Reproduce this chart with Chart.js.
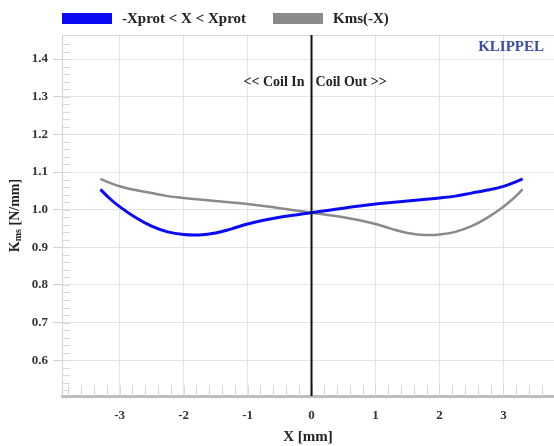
<!DOCTYPE html>
<html>
<head>
<meta charset="utf-8">
<title>Kms vs X</title>
<script src="https://cdn.jsdelivr.net/npm/chart.js@4.4.1/dist/chart.umd.min.js"></script>
<style>
  html, body { margin: 0; padding: 0; background: #fff; }
  #wrap { width: 554px; height: 446px; }
</style>
</head>
<body>
<div id="wrap"><canvas id="chartKms" width="554" height="446"></canvas></div>
<script>
// Stiffness over excursion
const xPos = [-3.3, -3.15, -3.0, -2.75, -2.5, -2.25, -2.0, -1.75, -1.5, -1.25, -1.0, -0.75, -0.5, -0.25,
              0, 0.25, 0.5, 0.75, 1.0, 1.25, 1.5, 1.75, 2.0, 2.25, 2.5, 2.75, 3.0, 3.15, 3.3];
const kmsX = [1.054, 1.029, 1.008, 0.979, 0.956, 0.941, 0.934, 0.933, 0.938, 0.949, 0.962, 0.972, 0.980, 0.986,
              0.992, 0.998, 1.004, 1.010, 1.015, 1.019, 1.023, 1.027, 1.031, 1.036, 1.044, 1.052, 1.062, 1.071, 1.082];
const kmsMinusX = [1.082, 1.071, 1.062, 1.052, 1.044, 1.036, 1.031, 1.027, 1.023, 1.019, 1.015, 1.010, 1.004, 0.998,
                   0.992, 0.986, 0.980, 0.972, 0.962, 0.949, 0.938, 0.933, 0.934, 0.941, 0.956, 0.979, 1.008, 1.029, 1.054];
const serieNames = ['-Xprot < X < Xprot', 'Kms(-X)'];
const serieColors = ['#0a0af5', '#8a8a8a'];

const SERIF = '"Liberation Serif", "DejaVu Serif", serif';

function puntos(ys) {
    return xPos.map((x, i) => ({ x: x, y: ys[i] }));
}

// Leyenda, textos, linea cero y ticks menores
const extras = {
    id: 'extras',
    beforeDatasetsDraw(chart) {
        const ctx = chart.ctx;
        const a = chart.chartArea;
        const sx = chart.scales.x, sy = chart.scales.y;
        ctx.save();
        ctx.strokeStyle = '#d8d8d8';
        ctx.lineWidth = 1;
        // borde superior
        ctx.beginPath();
        ctx.moveTo(a.left, a.top + 0.5);
        ctx.lineTo(a.right, a.top + 0.5);
        ctx.stroke();
        // ticks menores eje x (cada 0.2)
        ctx.beginPath();
        for (let v = -3.8; v <= 3.8; v += 0.2) {
            const px = Math.round(sx.getPixelForValue(v)) + 0.5;
            if (px < a.left + 2 || px > a.right) continue;
            ctx.moveTo(px, a.bottom);
            ctx.lineTo(px, a.bottom - 11);
        }
        // ticks menores eje y (cada 0.02)
        for (let v = 0.52; v <= 1.46; v += 0.02) {
            const py = Math.round(sy.getPixelForValue(v)) + 0.5;
            if (py < a.top || py > a.bottom - 2) continue;
            ctx.moveTo(a.left, py);
            ctx.lineTo(a.left + 8, py);
        }
        ctx.stroke();
        ctx.restore();
    },
    afterDatasetsDraw(chart) {
        const ctx = chart.ctx;
        const a = chart.chartArea;
        const sx = chart.scales.x;
        ctx.save();
        // linea en X = 0
        const x0 = sx.getPixelForValue(0);
        ctx.strokeStyle = '#111';
        ctx.lineWidth = 2;
        ctx.beginPath();
        ctx.moveTo(x0, a.top);
        ctx.lineTo(x0, a.bottom);
        ctx.stroke();

        ctx.fillStyle = '#222';
        ctx.font = 'bold 14px ' + SERIF;
        ctx.textBaseline = 'middle';
        ctx.textAlign = 'right';
        ctx.fillText('<< Coil In', x0 - 7, 82);
        ctx.textAlign = 'left';
        ctx.fillText('Coil Out >>', x0 + 4, 82);

        ctx.fillStyle = '#3b4fa0';
        ctx.font = 'bold 15px ' + SERIF;
        ctx.textAlign = 'right';
        ctx.fillText('KLIPPEL', 544, 47);

        // leyenda
        const cajas = [62, 273];
        ctx.font = 'bold 15px ' + SERIF;
        ctx.textAlign = 'left';
        chart.data.datasets.forEach((ds, i) => {
            ctx.fillStyle = ds.borderColor;
            ctx.fillRect(cajas[i], 13, 50, 11);
            ctx.fillStyle = '#222';
            ctx.fillText(ds.label, cajas[i] + 60, 19);
        });

        // titulos de ejes
        ctx.fillStyle = '#222';
        ctx.textAlign = 'center';
        ctx.font = 'bold 15px ' + SERIF;
        ctx.fillText('X [mm]', (a.left + a.right) / 2, 437);

        ctx.translate(15, (a.top + a.bottom) / 2);
        ctx.rotate(-Math.PI / 2);
        const big = 'bold 14px ' + SERIF, small = 'bold 10px ' + SERIF;
        ctx.font = big;
        const wK = ctx.measureText('K').width;
        const wR = ctx.measureText(' [N/mm]').width;
        ctx.font = small;
        const wS = ctx.measureText('ms').width;
        let px = -(wK + wS + wR) / 2;
        ctx.textAlign = 'left';
        ctx.font = big;
        ctx.fillText('K', px, 0);
        px += wK;
        ctx.font = small;
        ctx.fillText('ms', px, 3);
        px += wS;
        ctx.font = big;
        ctx.fillText(' [N/mm]', px, 0);
        ctx.restore();
    }
};

const ctxKms = document.getElementById('chartKms').getContext('2d');
const chartKms = new Chart(ctxKms, {
    type: 'scatter',
    data: {
        datasets: [
            { label: serieNames[0], data: puntos(kmsX), showLine: true, borderColor: serieColors[0],
              backgroundColor: serieColors[0], borderWidth: 3, pointRadius: 0, tension: 0.4 },
            { label: serieNames[1], data: puntos(kmsMinusX), showLine: true, borderColor: serieColors[1],
              backgroundColor: serieColors[1], borderWidth: 2.5, pointRadius: 0, tension: 0.4 }
        ]
    },
    options: {
        responsive: false,
        animation: false,
        devicePixelRatio: 1,
        layout: { padding: { top: 35, left: 0, right: 0, bottom: 0 } },
        plugins: { legend: { display: false }, tooltip: { enabled: false } },
        scales: {
            x: {
                type: 'linear',
                min: -3.9,
                max: 3.79,
                afterFit: function(scale) { scale.height = 50; },
                grid: { color: '#e4e4e4', drawTicks: false },
                border: { color: '#bdbdbd', width: 3 },
                ticks: {
                    stepSize: 1,
                    includeBounds: false,
                    padding: 12,
                    color: '#333',
                    font: { family: SERIF, size: 13, weight: 'bold' },
                    callback: v => Math.round(v).toString()
                }
            },
            y: {
                type: 'linear',
                min: 0.505,
                max: 1.464,
                afterFit: function(scale) { scale.width = 62; },
                grid: { color: '#e4e4e4', drawTicks: true, tickLength: 9, tickColor: '#d2d2d2' },
                border: { color: '#d2d2d2', width: 1 },
                ticks: {
                    stepSize: 0.1,
                    includeBounds: false,
                    padding: 5,
                    color: '#333',
                    font: { family: SERIF, size: 13, weight: 'bold' },
                    callback: v => v.toFixed(1)
                }
            }
        }
    },
    plugins: [extras]
});
</script>
</body>
</html>
